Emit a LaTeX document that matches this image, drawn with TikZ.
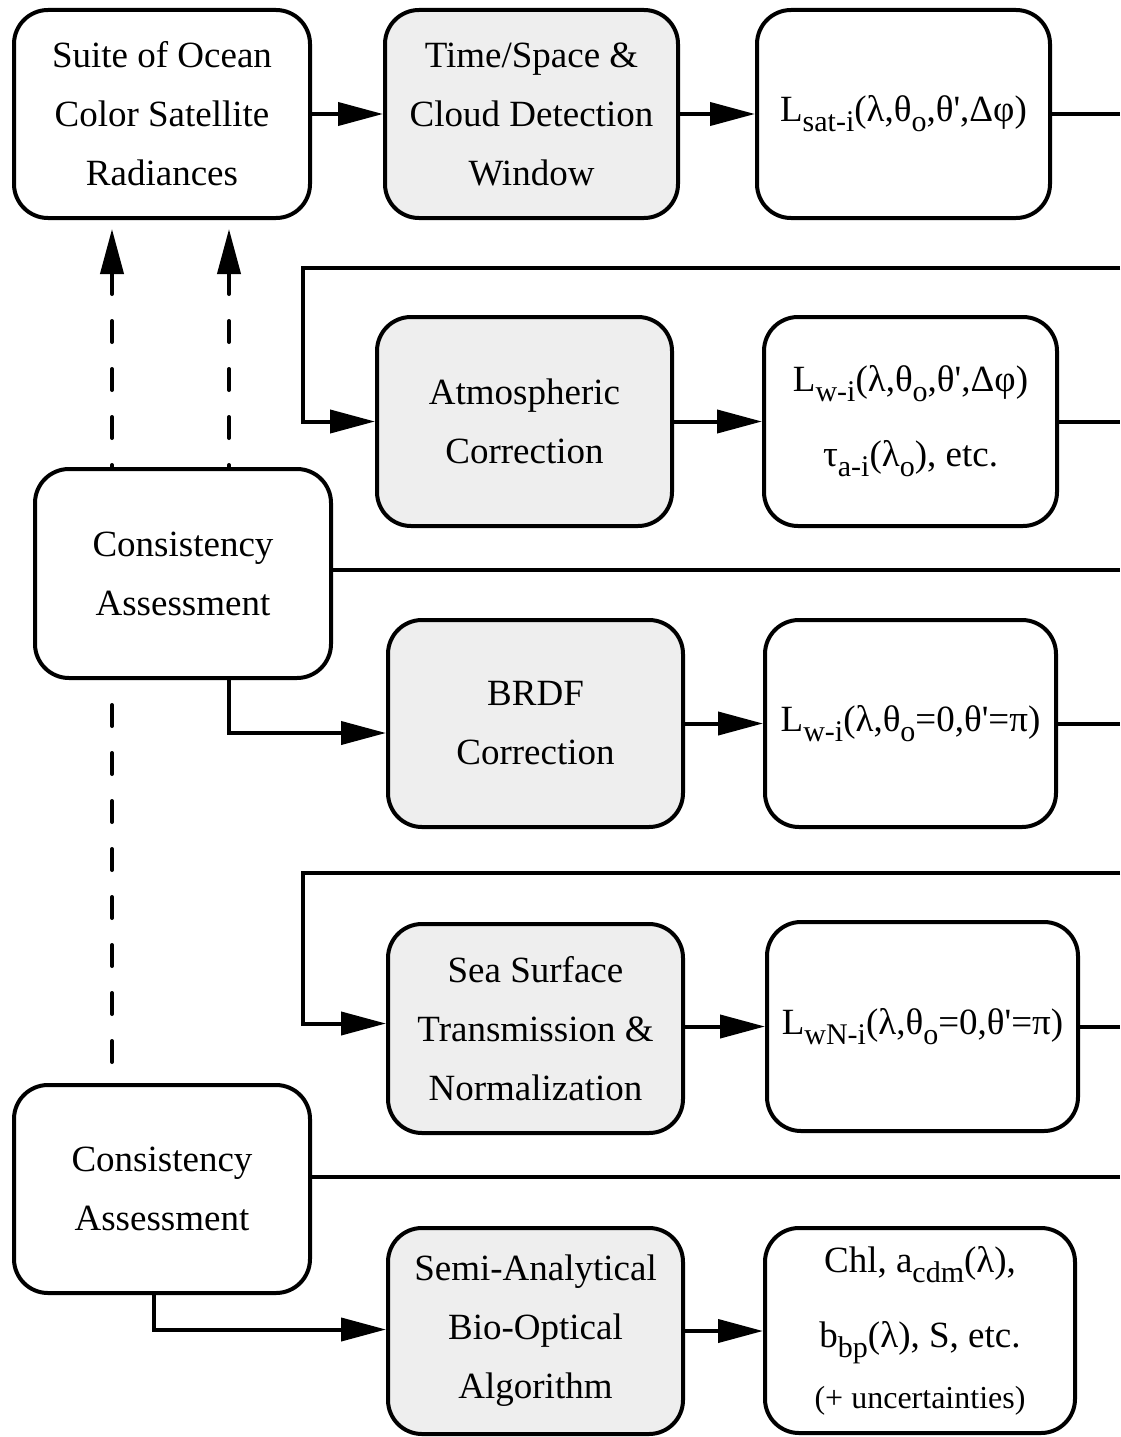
\documentclass[tikz,border=0pt]{standalone}
\usepackage{fontspec}
\setmainfont{Liberation Serif}[Ligatures=TeXOff]
\usetikzlibrary{arrows.meta,calc}
\definecolor{boxgray}{RGB}{238,238,238}
\newcommand{\sbs}[1]{\raisebox{-10pt}{\fontsize{30}{30}\selectfont #1}}
\begin{document}
\begin{tikzpicture}[x=1pt,y=-1pt,line width=4pt,
  box/.style={draw,line width=4pt,rounded corners=34pt,align=center,inner sep=0pt,
    font=\fontsize{37}{59}\selectfont,fill=white},
  gbox/.style={box,fill=boxgray},
  sz/.style 2 args={minimum width=#1,minimum height=#2},
  arr/.style={-{Triangle[length=45pt,width=23pt]},line width=4pt},
  plain/.style={line width=4pt},
  darr/.style={{Triangle[length=45pt,width=23pt]}-,line width=4pt,
    dash pattern=on 21pt off 27pt,line cap=round,shorten <=9pt},
  dline/.style={line width=4pt,dash pattern=on 21pt off 27pt,dash phase=23pt,line cap=round}]
\useasboundingbox (0,0) rectangle (1120,1437);

% row 1
\node[box,sz={296pt}{208pt}] (suite) at (162,114) {Suite of Ocean\\Color Satellite\\Radiances};
\node[gbox,sz={293pt}{208pt}] (tsc) at (531.5,114) {Time/Space \&\\Cloud Detection\\Window};
\node[box,sz={293pt}{208pt}] (lsat) at (903.5,114) {L\sbs{sat-i}(λ,θ\sbs{o},θ',Δφ)};

% row 2
\node[gbox,sz={295pt}{209pt}] (atm) at (524.5,421.5) {Atmospheric\\Correction};
\node[box,sz={293pt}{209pt}] (lw1) at (910.5,421.5) {L\sbs{w-i}(λ,θ\sbs{o},θ',Δφ)\\[16pt]τ\sbs{a-i}(λ\sbs{o}), etc.};

% consistency 1
\node[box,sz={296pt}{209pt}] (cons1) at (183,573.5) {Consistency\\Assessment};

% row 3
\node[gbox,sz={295pt}{207pt}] (brdf) at (535.5,723.5) {BRDF\\Correction};
\node[box,sz={291pt}{207pt}] (lw2) at (910.5,723.5) {L\sbs{w-i}(λ,θ\sbs{o}=0,θ'=π)};

% row 4
\node[gbox,sz={295pt}{209pt}] (sea) at (535.5,1028.5) {Sea Surface\\Transmission \&\\Normalization};
\node[box,sz={311pt}{209pt}] (lwn) at (922.5,1026.5) {L\sbs{wN-i}(λ,θ\sbs{o}=0,θ'=π)};

% consistency 2
\node[box,sz={296pt}{208pt}] (cons2) at (162,1189) {Consistency\\Assessment};

% row 5
\node[gbox,sz={295pt}{206pt}] (semi) at (535.5,1331) {Semi-Analytical\\Bio-Optical\\Algorithm};
\node[box,sz={310pt}{205pt}] (chl) at (920,1330.5) {Chl, a\sbs{cdm}(λ),\\[16pt]b\sbs{bp}(λ), S, etc.\\[2pt]{\fontsize{32}{36}\selectfont (+ uncertainties)}};

% right-edge coordinates
\coordinate (e1) at (1120,114);
\coordinate (e2) at (1120,268);
\coordinate (k2) at (303,268);
\coordinate (e3) at (1120,421.5);
\coordinate (e4) at (1120,570);
\coordinate (e5) at (1120,723.5);
\coordinate (e6) at (1120,873);
\coordinate (k6) at (303,873);
\coordinate (e7) at (1120,1026.5);
\coordinate (e8) at (1120,1177);

% main flow
\draw[arr] (suite.east) -- (tsc.west);
\draw[arr] (tsc.east) -- (lsat.west);
\draw[plain] (lsat.east) -- (e1);

\draw[arr] (e2) -- (k2) |- (atm.west);
\draw[arr] (atm.east) -- (lw1.west);
\draw[plain] (lw1.east) -- (e3);

\draw[plain] (cons1.east |- e4) -- (e4);
\draw[arr] ($(cons1.south)+(46,0)$) |- ($(brdf.west)+(0,9.5)$);
\draw[arr] (brdf.east) -- (lw2.west);
\draw[plain] (lw2.east) -- (e5);

\draw[arr] (e6) -- (k6) |- ($(sea.west)+(0,-5)$);
\draw[arr] (sea.east |- lwn.west) -- (lwn.west);
\draw[plain] (lwn.east) -- (e7);

\draw[plain] (cons2.east |- e8) -- (e8);
\draw[arr] ($(cons2.south)+(-8,0)$) |- ($(semi.west)+(0,-1.5)$);
\draw[arr] (semi.east) -- (semi.east -| chl.west);

% dashed feedback to the satellite radiances
\coordinate (d1) at ($(cons1.north)+(-71,0)$);
\coordinate (d2) at ($(cons1.north)+(46,0)$);
\draw[darr] (d1 |- suite.south) -- (d1);
\draw[darr] (d2 |- suite.south) -- (d2);
\coordinate (d3) at ($(cons2.north)+(-50,0)$);
\draw[dline] (d3 |- cons1.south) -- (d3);
\end{tikzpicture}
\end{document}
